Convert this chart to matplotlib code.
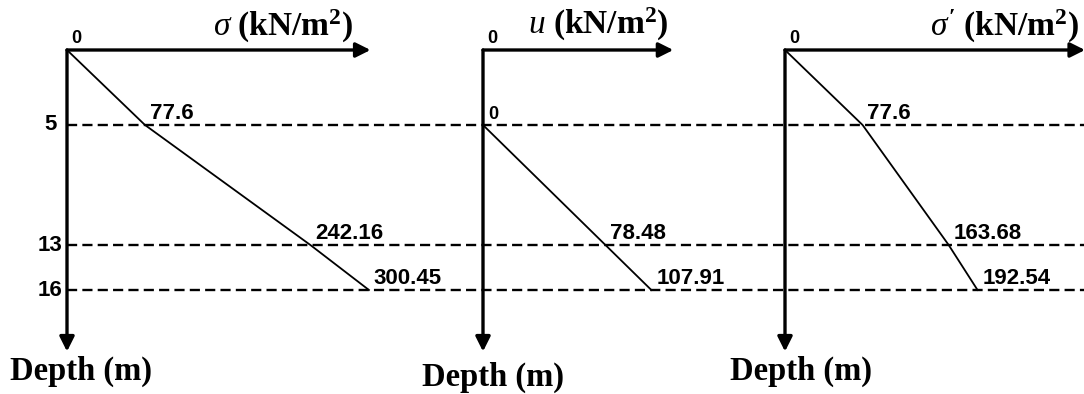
import matplotlib.pyplot as plt

# depth (m) of the layer boundaries
depths = [0, 5, 13, 16]
boundary_depths = [5, 13, 16]

# total stress, pore pressure and effective stress (kN/m2)
sigma_vals = [0, 77.6, 242.16, 300.45]
u_depths = [5, 13, 16]
u_vals = [0, 78.48, 107.91]
sigma_eff_vals = [0, 77.6, 163.68, 192.54]

sigma_labels = ['77.6', '242.16', '300.45']
u_labels = ['0', '78.48', '107.91']
sigma_eff_labels = ['77.6', '163.68', '192.54']

W, H = 1084, 394
Y0, PX_PER_M = 50, 15.0

plt.rcParams['mathtext.fontset'] = 'custom'
plt.rcParams['mathtext.rm'] = 'Liberation Serif:bold'
plt.rcParams['mathtext.it'] = 'Liberation Serif:italic'

fig = plt.figure(figsize=(W / 100, H / 100), dpi=100)

SERIF = 'Liberation Serif'
SANS = 'Liberation Sans'


def make_panel(x0, px_per_unit):
    ax = fig.add_axes([0, 0, 1, 1])
    ax.set_xlim(-x0 / px_per_unit, (W - x0) / px_per_unit)
    ax.set_ylim((H - Y0) / PX_PER_M, -Y0 / PX_PER_M)
    ax.axis('off')
    ax.patch.set_alpha(0)
    return ax


def draw_axes(ax, xmax, ymax=20.1):
    kw = dict(arrowstyle='-|>', lw=2.4, color='black', mutation_scale=22,
              shrinkA=0, shrinkB=0)
    ax.annotate('', xy=(xmax, 0), xytext=(0, 0), arrowprops=kw,
                annotation_clip=False)
    ax.annotate('', xy=(0, ymax), xytext=(0, 0), arrowprops=kw,
                annotation_clip=False)
    ax.annotate('0', xy=(0, 0), xytext=(3, 5), textcoords='offset points',
                ha='left', va='baseline', fontsize=13, fontweight='bold',
                family=SANS)


def label_points(ax, xs, ys, labels, size=16):
    for x, y, t in zip(xs, ys, labels):
        ax.annotate(t, xy=(x, y), xytext=(3.5, 4), textcoords='offset points',
                    ha='left', va='baseline', fontsize=size, fontweight='bold',
                    family=SANS)


# panel 1: total stress
ax1 = make_panel(67, 1.005)
for d in boundary_depths:
    ax1.axhline(d, xmin=67 / W, xmax=1, color='black', lw=1.7,
                ls=(0, (4.3, 2.2)))
draw_axes(ax1, 302)
ax1.plot(sigma_vals, depths, color='black', lw=1.3)
label_points(ax1, sigma_vals[1:], depths[1:], sigma_labels)
for d in boundary_depths:
    ax1.annotate(str(d), xy=(0, d), xytext=(-12, 0), textcoords='offset points',
                 ha='center', va='center', fontsize=16, fontweight='bold',
                 family=SANS)

# panel 2: pore water pressure
ax2 = make_panel(483, 1.56)
draw_axes(ax2, 122)
ax2.plot(u_vals, u_depths, color='black', lw=1.3)
label_points(ax2, u_vals[:1], u_depths[:1], u_labels[:1], size=13)
label_points(ax2, u_vals[1:], u_depths[1:], u_labels[1:])

# panel 3: effective stress
ax3 = make_panel(785, 1.0)
draw_axes(ax3, 300)
ax3.plot(sigma_eff_vals, depths, color='black', lw=1.3)
label_points(ax3, sigma_eff_vals[1:], depths[1:], sigma_eff_labels)

# axis titles
titles = [(283, 36, r'$\sigma$ (kN/m$^2$)'),
          (598, 34, r'$u$ (kN/m$^2$)'),
          (1005, 36, r"$\sigma'$ (kN/m$^2$)")]
for x, y, t in titles:
    fig.text(x / W, 1 - y / H, t, ha='center', va='baseline', fontsize=24,
             fontweight='bold', family=SERIF)

for x, y in [(81, 380), (493, 386), (801, 380)]:
    fig.text(x / W, 1 - y / H, 'Depth (m)', ha='center', va='baseline',
             fontsize=23.5, fontweight='bold', family=SERIF)

fig.savefig('out.png', dpi=100)
